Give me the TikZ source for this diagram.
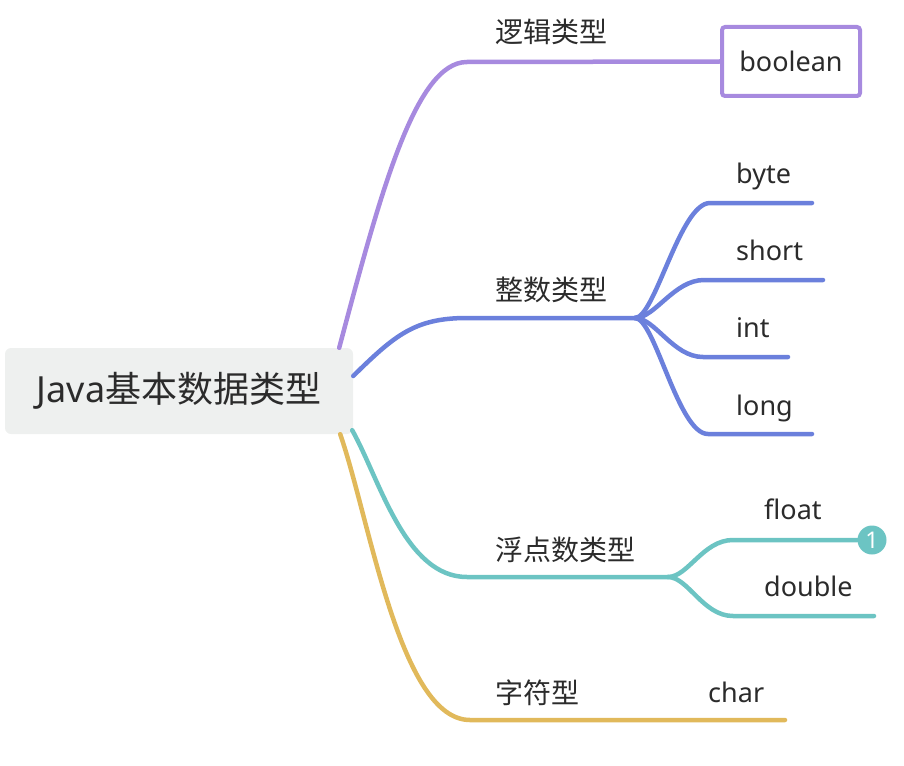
\documentclass[tikz,border=0pt]{standalone}
\usepackage{fontspec}
\setmainfont{Noto Sans}
\newfontfamily\cjk{Noto Sans CJK SC}
\usetikzlibrary{calc}
\definecolor{cpur}{HTML}{A78ADF}
\definecolor{cblu}{HTML}{6B80DC}
\definecolor{ctea}{HTML}{6CC4C3}
\definecolor{cgol}{HTML}{E1B95B}
\definecolor{croot}{HTML}{EEF0EF}
\definecolor{ctxt}{HTML}{2B2B2B}
\begin{document}
\begin{tikzpicture}[x=1pt,y=-1pt,
  br/.style={line width=4.5pt,line cap=round},
  cjklbl/.style={inner sep=0pt,anchor=west,font=\cjk\fontsize{28}{30}\selectfont,text=ctxt},
  latlbl/.style={inner sep=0pt,anchor=base west,font=\fontsize{27}{30}\selectfont,text=ctxt},
  curv/.style={to path={.. controls ($(\tikztostart)+(20,0)$) and ($(\tikztotarget)+(-30,0)$) .. (\tikztotarget)}}
]
\useasboundingbox (0,0) rectangle (904,765);

% root
\node[fill=croot,rounded corners=6pt,minimum width=348pt,minimum height=86pt,inner sep=0pt,text=ctxt,
      font=\fontsize{36}{40}\selectfont] (root) at (179,391) {Java{\cjk 基本数据类型}};

% branch labels
\node[cjklbl] (l1) at (495,32) {逻辑类型};
\node[cjklbl] (l2) at (495,290) {整数类型};
\node[cjklbl] (l3) at (495,550) {浮点数类型};
\node[cjklbl] (l4) at (495,693) {字符型};

% boolean box
\node[draw=cpur,line width=4pt,rounded corners=3pt,minimum width=138pt,minimum height=69pt,inner sep=0pt,
      font=\fontsize{27}{30}\selectfont,text=ctxt] (bool) at (791,61.5) {boolean};

% child labels
\node[latlbl] (byte) at (736,183) {byte};
\node[latlbl] (short) at (736,260) {short};
\node[latlbl] (int) at (736,337) {int};
\node[latlbl] (long) at (736,415) {long};
\node[latlbl] (float) at (764,519) {float};
\node[latlbl] (double) at (764,596) {double};
\node[latlbl] (char) at (708,702) {char};

% badge
\node[circle,fill=ctea,minimum size=29pt,inner sep=0pt,text=white,font=\bfseries\fontsize{23}{23}\selectfont] (badge) at (872,540) {1};

% coordinates
\coordinate (p0) at ($(root.north east)+(-14,0)$);
\coordinate (p1) at (467,62);
\coordinate (b0) at ($(root.east)+(0,-15)$);
\coordinate (b1) at (467,318);
\coordinate (bj) at (635,318);
\coordinate (t0) at ($(root.south east)+(-1,-4)$);
\coordinate (t1) at (467,577);
\coordinate (tj) at (668,577);
\coordinate (g0) at ($(root.south east)+(-13,0)$);
\coordinate (g1) at (470,720);
\coordinate (g2) at (785,720);

\coordinate (bys) at (710,203); \coordinate (bye) at (812,203);
\coordinate (shs) at (704,280); \coordinate (she) at (823,280);
\coordinate (ins) at (703,357); \coordinate (ine) at (788,357);
\coordinate (los) at (708,434); \coordinate (loe) at (812,434);
\coordinate (fls) at (733,540);
\coordinate (dos) at (733,616); \coordinate (doe) at (874,616);

% purple
\draw[br,cpur] (p0) .. controls (380,195) and (415,62) .. (p1) -- (bool.west);
% blue
\draw[br,cblu] (b0) .. controls (395,335) and (415,318) .. (b1) -- (bj);
\draw[br,cblu] (bj) to[curv] (bys) -- (bye);
\draw[br,cblu] (bj) to[curv] (shs) -- (she);
\draw[br,cblu] (bj) to[curv] (ins) -- (ine);
\draw[br,cblu] (bj) to[curv] (los) -- (loe);
% teal
\draw[br,ctea] (t0) .. controls (380,480) and (405,577) .. (t1) -- (tj);
\draw[br,ctea] (tj) to[curv] (fls) -- (badge.west);
\draw[br,ctea] (tj) to[curv] (dos) -- (doe);
% gold
\draw[br,cgol] (g0) .. controls (370,520) and (400,720) .. (g1) -- (g2);
\end{tikzpicture}
\end{document}
